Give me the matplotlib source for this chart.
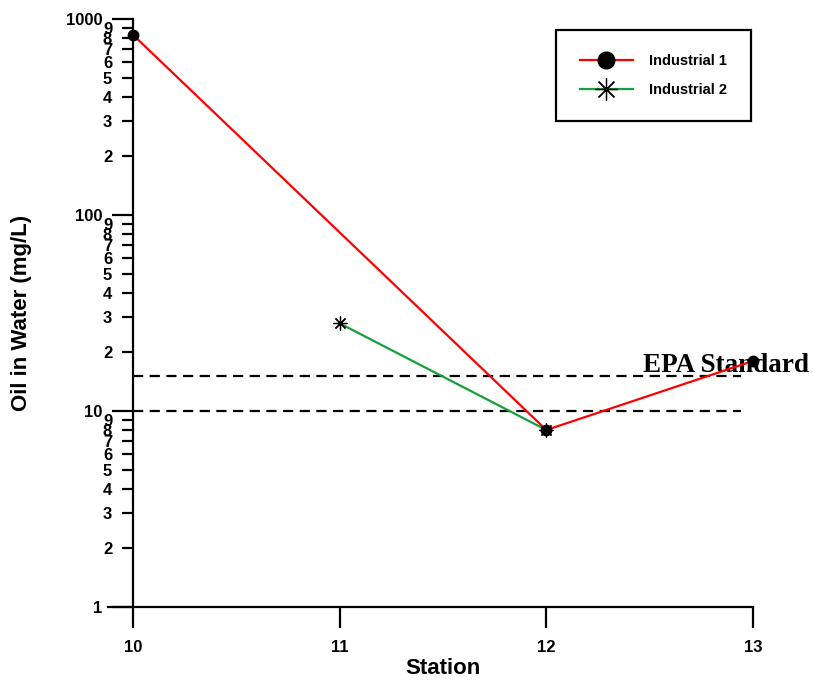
import numpy as np
import matplotlib
matplotlib.use("Agg")
import matplotlib.pyplot as plt
from matplotlib.ticker import LogLocator, FuncFormatter, FixedLocator

plt.rcParams['font.family'] = ['Liberation Sans', 'DejaVu Sans']
plt.rcParams['font.weight'] = 'bold'

# oil concentrations (mg/L) at each sampling station
stations_1 = [10, 12, 13]
oil_1 = [830, 8, 18]
stations_2 = [11, 12]
oil_2 = [28, 8]
epa_levels = [10, 15]

fig = plt.figure(figsize=(8.14, 6.81), dpi=100)
ax = fig.add_axes([133/814, 1 - 607/681, 620/814, 588/681])

green = '#14a03c'
ln2, = ax.plot(stations_2, oil_2, color=green, lw=1.6, marker=(8, 2, 0),
               markersize=10, markeredgecolor='black', markerfacecolor='black',
               markeredgewidth=0.9, zorder=3, clip_on=False, label='Industrial 2')
ln1, = ax.plot(stations_1, oil_1, color='red', lw=1.6, marker='o',
               markersize=7.5, markeredgecolor='black', markerfacecolor='black',
               zorder=4, clip_on=False, label='Industrial 1')

ax.hlines(epa_levels, 10, 12.94, colors='black', lw=1.6,
          linestyles=(0, (4.6, 2.9)), zorder=2)
ax.text(12.47, 15.9, 'EPA Standard', family='Liberation Serif',
        fontweight='bold', fontsize=19.5, va='baseline', ha='left', zorder=1)

ax.set_yscale('log')
ax.set_xlim(10, 13)
ax.set_ylim(1, 1000)

ax.xaxis.set_major_locator(FixedLocator([10, 11, 12, 13]))
ax.yaxis.set_major_locator(FixedLocator([1, 10, 100, 1000]))
ax.yaxis.set_major_formatter(FuncFormatter(lambda v, p: f'{v:g}'))
ax.yaxis.set_minor_locator(LogLocator(base=10, subs=np.arange(2, 10)))

def minor_label(v, p):
    return str(int(round(v / 10 ** np.floor(np.log10(v) + 1e-9))))

ax.yaxis.set_minor_formatter(FuncFormatter(minor_label))

for s in ['top', 'right']:
    ax.spines[s].set_visible(False)
for s in ['left', 'bottom']:
    ax.spines[s].set_linewidth(1.6)
ax.spines['bottom'].set_bounds(9.88, 13)

ax.tick_params(axis='both', which='major', direction='out', length=15,
               width=1.6, labelsize=12)
ax.tick_params(axis='y', which='minor', direction='out', length=8,
               width=1.6, labelsize=12, pad=7)
ax.tick_params(axis='y', which='major', pad=7)
ax.tick_params(axis='x', which='major', pad=9)
for lab in ax.get_xticklabels() + ax.get_yticklabels() + ax.get_yticklabels(minor=True):
    lab.set_fontweight('bold')

fig.text(443/814, 1 - 669/681, 'Station', fontsize=16, fontweight='bold',
         ha='center', va='center')
fig.text(22/814, 1 - 313/681, 'Oil in Water (mg/L)', fontsize=16,
         fontweight='bold', rotation=90, ha='center', va='center')

leg = ax.legend(handles=[ln1, ln2], loc='upper left',
                bbox_to_anchor=(556/814, 1 - 30/681), bbox_transform=fig.transFigure,
                fontsize=10.5, markerscale=1.6, handlelength=3.6, handletextpad=1.15,
                borderpad=1.65, borderaxespad=0, labelspacing=1.0,
                fancybox=False, framealpha=1, edgecolor='black')
leg.get_frame().set_linewidth(1.6)
for t in leg.get_texts():
    t.set_fontweight('bold')

fig.savefig('out.png', dpi=100)
